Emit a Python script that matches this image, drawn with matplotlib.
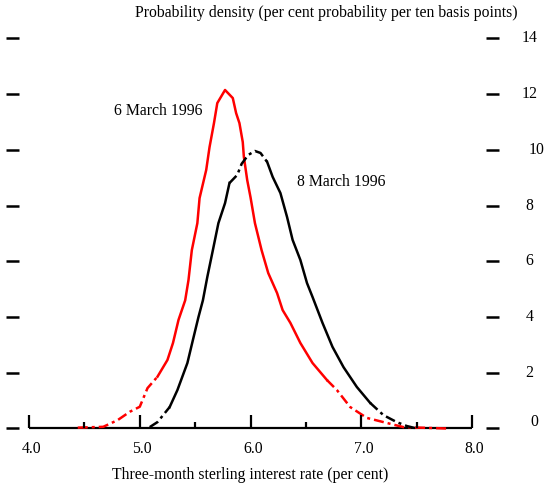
import matplotlib.pyplot as plt

plt.rcParams['font.family'] = ['Liberation Serif', 'DejaVu Serif']

# implied densities (per cent per 10bp)
rate_6mar = [4.44, 4.67, 4.80, 4.91, 5.00, 5.07, 5.16, 5.25, 5.30, 5.35, 5.41,
             5.44, 5.47, 5.52, 5.54, 5.60, 5.63, 5.67, 5.70, 5.77, 5.84, 5.87,
             5.90, 5.93, 5.94, 5.97, 6.00, 6.04, 6.10, 6.16, 6.24, 6.29, 6.36,
             6.45, 6.56, 6.69, 6.78, 6.90, 7.05, 7.23, 7.38, 7.77]
dens_6mar = [0.03, 0.06, 0.30, 0.60, 0.78, 1.45, 1.86, 2.46, 3.07, 3.90, 4.60,
             5.33, 6.40, 7.37, 8.27, 9.28, 10.10, 10.96, 11.68, 12.15, 11.86, 11.32,
             10.96, 10.28, 9.75, 8.92, 8.30, 7.37, 6.40, 5.58, 4.86, 4.25, 3.79,
             3.07, 2.35, 1.74, 1.38, 0.77, 0.38, 0.20, 0.05, 0.0]

rate_8mar = [5.09, 5.16, 5.27, 5.34, 5.43, 5.48, 5.53, 5.57, 5.61, 5.66, 5.71,
             5.77, 5.81, 5.88, 5.92, 5.98, 6.04, 6.09, 6.15, 6.20, 6.27, 6.33,
             6.38, 6.45, 6.51, 6.56, 6.65, 6.74, 6.84, 6.96, 7.08, 7.20, 7.32,
             7.41, 7.50]
dens_8mar = [0.05, 0.23, 0.77, 1.38, 2.35, 3.18, 4.00, 4.60, 5.44, 6.40, 7.37,
             8.09, 8.81, 9.10, 9.50, 9.82, 9.96, 9.89, 9.57, 9.03, 8.45, 7.59,
             6.77, 6.05, 5.22, 4.72, 3.79, 2.93, 2.20, 1.49, 0.92, 0.48, 0.23,
             0.09, 0.0]

x_major = [4.0, 5.0, 6.0, 7.0, 8.0]
x_minor = [4.5, 5.5, 6.5, 7.5]
x_labels = ['4.0', '5.0', '6.0', '7.0', '8.0']
y_ticks = [0, 2, 4, 6, 8, 10, 12, 14]
y_labels = ['0', '2', '4', '6', '8', '10', '12', '14']

fs = 11.3

fig = plt.figure(figsize=(5.44, 4.86), dpi=100)
ax = fig.add_axes([0, 0, 1, 1])
ax.set_xlim(3.738, 8.650)
ax.set_ylim(-2.064, 15.38)
ax.axis('off')

dotted = (0, (4, 1.6, 1.2, 1.6))


def draw_density(xs, ys, color, breaks):
    # alternate dash-dot / solid pieces, starting dash-dot in the left tail
    cuts = [0] + [next(i for i, v in enumerate(xs) if v >= b) for b in breaks] + [len(xs) - 1]
    for k in range(len(cuts) - 1):
        a, b = cuts[k], cuts[k + 1]
        ls = dotted if k % 2 == 0 else '-'
        ax.plot(xs[a:b + 1], ys[a:b + 1], color=color, lw=1.8, ls=ls)


draw_density(rate_6mar, dens_6mar, '#ff0000', [5.16, 6.69])
draw_density(rate_8mar, dens_8mar, 'black', [5.27, 5.81, 6.15, 7.08])

# horizontal axis with its tick marks
ax.plot([x_major[0], x_major[-1]], [0, 0], color='black', lw=1.6,
        solid_capstyle='butt', zorder=0)
ax.vlines(x_major, 0, 0.47, color='black', lw=1.6)
ax.vlines(x_minor, 0, 0.23, color='black', lw=1.6)
for xv, lab in zip(x_major, x_labels):
    ax.text(xv + 0.02, -0.74, lab, ha='center', va='center', fontsize=fs)

# density scale: bare dashes on the left, labelled dashes on the right
ax.hlines(y_ticks, 3.792, 3.910, color='black', lw=1.8)
ax.hlines(y_ticks, 8.126, 8.244, color='black', lw=1.8)
for yv, lab in zip(y_ticks, y_labels):
    dx, dy = 0.0, 0.0
    if lab == '0':
        dx, dy = 0.04, 0.22
    elif lab == '10':
        dx = 0.06
    ax.text(8.52 + dx, yv + dy, lab, ha='center', va='center', fontsize=fs)

ax.text(6.68, 14.91, 'Probability density (per cent probability per ten basis points)',
        ha='center', va='center', fontsize=fs)
ax.text(6.0, -1.67, 'Three-month sterling interest rate (per cent)',
        ha='center', va='center', fontsize=fs)
ax.text(5.17, 11.4, '6 March 1996', ha='center', va='center', fontsize=fs)
ax.text(6.82, 8.85, '8 March 1996', ha='center', va='center', fontsize=fs)

fig.savefig('out.png', dpi=100)
